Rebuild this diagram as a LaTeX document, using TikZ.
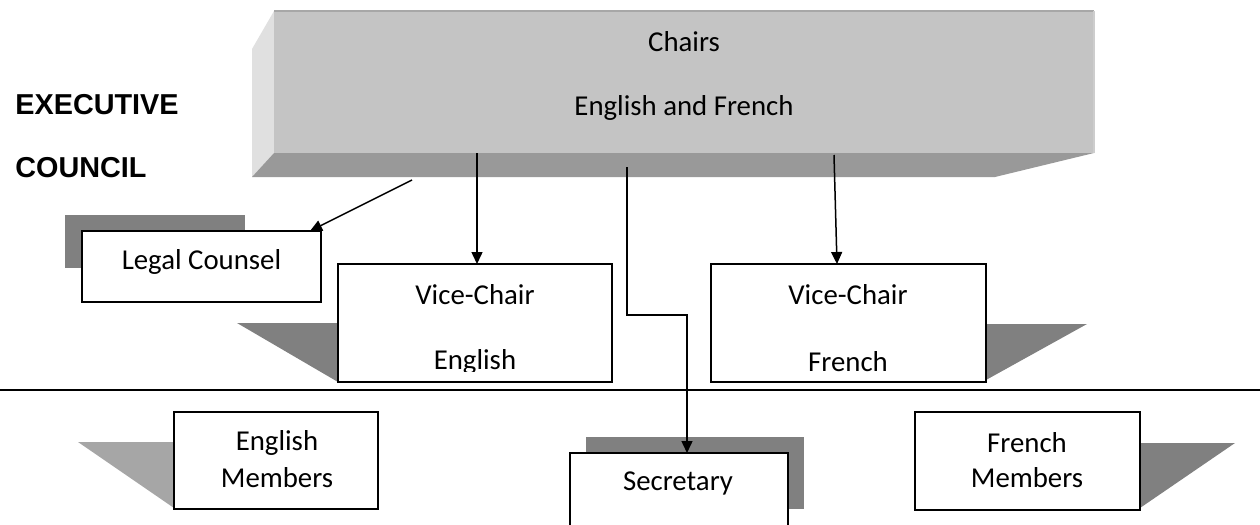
\documentclass[tikz,border=0pt]{standalone}
\usepackage{fontspec}
\setmainfont{Carlito}
\setsansfont{Liberation Sans}
\usetikzlibrary{arrows.meta,calc}
\definecolor{chfront}{HTML}{C4C4C4}
\definecolor{chleft}{HTML}{E0E0E0}
\definecolor{chbottom}{HTML}{999999}
\definecolor{shadowdark}{HTML}{808080}
\definecolor{shadowlight}{HTML}{A6A6A6}
\tikzset{
  box/.style={draw=black, line width=1pt, fill=white, inner sep=0pt, outer sep=0pt},
  lbl/.style={font=\fontsize{14.4}{17}\selectfont, inner sep=0pt},
  head/.style={font=\sffamily\bfseries\fontsize{14.4}{17}\selectfont, inner sep=0pt, anchor=west},
  arr/.style={line width=0.75pt, -{Triangle[length=6pt,width=5.5pt]}},
  conn/.style={line width=0.75pt},
  sep/.style={line width=1pt},
}
\begin{document}
\begin{tikzpicture}[x=0.5pt,y=-0.5pt]
\useasboundingbox (0,0) rectangle (1260,525);
\clip (0,0) rectangle (1260,525);

% headings
\node[head] (exec) at (15,105) {EXECUTIVE};
\node[head] (council) at (15,168) {COUNCIL};

% chairs 3D block
\fill[chleft] (274,11) -- (252,49) -- (252,177) -- (274,153) -- cycle;
\fill[chbottom] (274,153) -- (252,177) -- (995,177) -- (1094,153) -- cycle;
\node[fill=chfront, inner sep=0pt, outer sep=0pt, minimum width=410pt, minimum height=71pt] (chairs) at (684,82) {};
\draw[color=chfront!85!black, line width=0.6pt] (274,11) -- (1094,11);
\draw[color=chfront!85!white, line width=0.6pt] (1094,11) -- (1094,153);
\node[lbl] (chairsA) at (684,42) {Chairs};
\node[lbl] (chairsB) at (684,108) {English and French};

% shadows
\fill[shadowdark] (65,215) rectangle (245,268);
\fill[shadowdark] (237,323) -- (338,323) -- (338,382) -- cycle;
\fill[shadowdark] (986,324) -- (1087,324) -- (986,380) -- cycle;
\fill[shadowlight] (78,442) -- (174,442) -- (174,508) -- cycle;
\fill[shadowdark] (586,437) rectangle (804,509);
\fill[shadowdark] (1140,443) -- (1235,443) -- (1140,508) -- cycle;

% separator line
\coordinate (sepL) at (0,390);
\coordinate (sepR) at (1260,390);
\draw[sep] (sepL) -- (sepR);

% boxes
\node[box, minimum width=119.5pt, minimum height=35.5pt] (legal) at (201.5,266.5) {};
\node[lbl] (legalT) at (201.5,262) {Legal Counsel};

\node[box, minimum width=137pt, minimum height=59pt] (vce) at (475,323) {};
\node[lbl] (vceA) at (475,295) {Vice-Chair};
\begin{scope}
  \clip (338,264) rectangle (612,371);
  \node[lbl] (vceB) at (475,362) {English};
\end{scope}

\node[box, minimum width=137.5pt, minimum height=59pt] (vcf) at (848.5,323) {};
\node[lbl] (vcfA) at (848,295) {Vice-Chair};
\node[lbl] (vcfB) at (848,362) {French};

\node[box, minimum width=102pt, minimum height=48.5pt] (em) at (276,460.5) {};
\node[lbl] (emA) at (277,443) {English};
\node[lbl] (emB) at (277,478) {Members};

\node[box, minimum width=109pt, minimum height=43.5pt] (sec) at (679,496.5) {};
\node[lbl] (secT) at (678,483) {Secretary};

\node[box, minimum width=112.5pt, minimum height=49pt] (fm) at (1027.5,461) {};
\node[lbl] (fmA) at (1027,443) {French};
\node[lbl] (fmB) at (1027,478) {Members};

% connectors
\coordinate (s1) at (412,180);
\coordinate (t1) at (310,231);
\draw[arr] (s1) -- (t1);

\coordinate (s2) at (477,153);
\draw[arr] (s2) -- (s2 |- vce.north);

\coordinate (s3) at (627,167);
\coordinate (b3) at (627,315);
\coordinate (c3) at (687,315);
\draw[conn,-{Triangle[length=6pt,width=5.5pt]}] (s3) -- (b3) -- (c3) -- (c3 |- sec.north);

\coordinate (s4) at (834,155);
\coordinate (t4) at (837,264);
\draw[arr] (s4) -- (t4);
\end{tikzpicture}
\end{document}
